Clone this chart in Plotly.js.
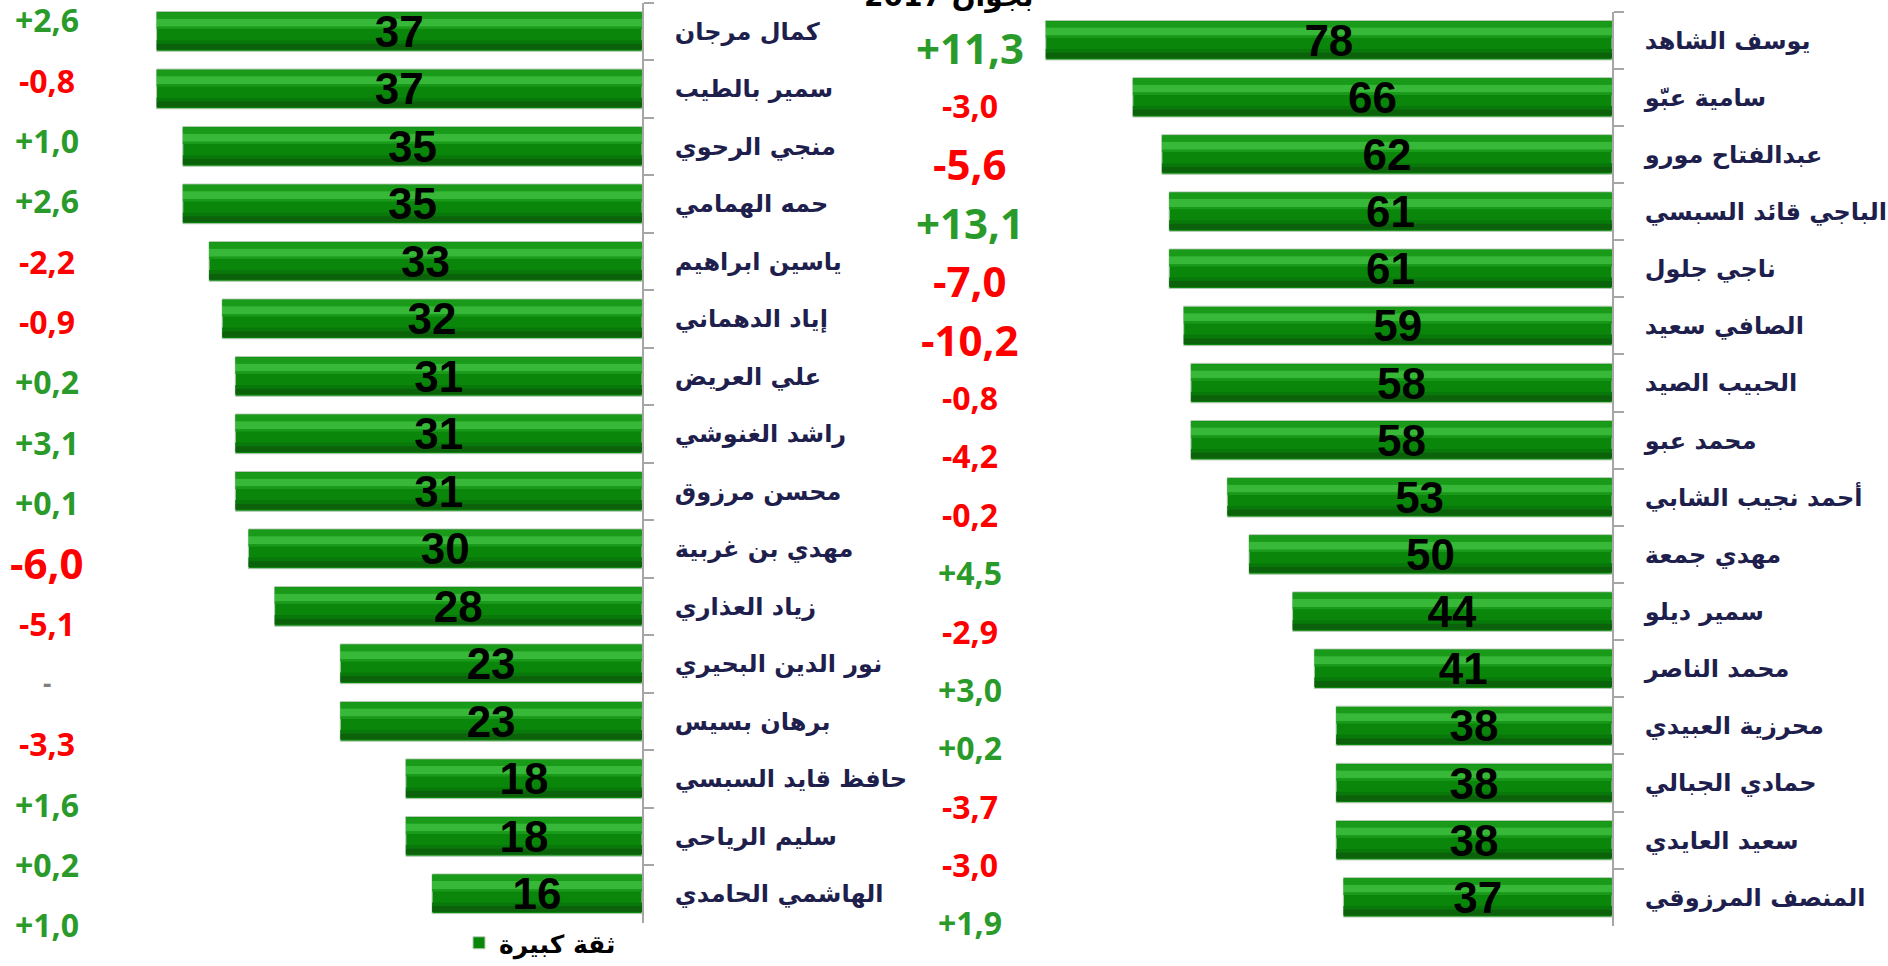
<!DOCTYPE html>
<html><head><meta charset="utf-8">
<script src="https://cdn.plot.ly/plotly-3.0.1.min.js"></script>
<style>html,body{margin:0;padding:0;background:#fff;overflow:hidden}#chart{width:1888px;height:966px}</style>
</head><body><div id="chart"></div>
<script>
// ---------- data ----------
const leftNames = ['كمال مرجان','سمير بالطيب','منجي الرحوي','حمه الهمامي','ياسين ابراهيم','إياد الدهماني','علي العريض','راشد الغنوشي','محسن مرزوق','مهدي بن غربية','زياد العذاري','نور الدين البحيري','برهان بسيس','حافظ قايد السبسي','سليم الرياحي','الهاشمي الحامدي'];
const leftValues = [37,37,35,35,33,32,31,31,31,30,28,23,23,18,18,16];
const leftChanges = [2.6,-0.8,1.0,2.6,-2.2,-0.9,0.2,3.1,0.1,-6.0,-5.1,null,-3.3,1.6,0.2,1.0];

const rightNames = ['يوسف الشاهد','سامية عبّو','عبدالفتاح مورو','الباجي قائد السبسي','ناجي جلول','الصافي سعيد','الحبيب الصيد','محمد عبو','أحمد نجيب الشابي','مهدي جمعة','سمير ديلو','محمد الناصر','محرزية العبيدي','حمادي الجبالي','سعيد العايدي','المنصف المرزوقي'];
const rightValues = [78,66,62,61,61,59,58,58,53,50,44,41,38,38,38,37];
const rightChanges = [11.3,-3.0,-5.6,13.1,-7.0,-10.2,-0.8,-4.2,-0.2,4.5,-2.9,3.0,0.2,-3.7,-3.0,1.9];

const legendLabel = 'ثقة كبيرة';
const titleText = 'بجوان 2017';

// ---------- styling ----------
const W = 1888, H = 966;
const nameFont = {family:"'DejaVu Sans', sans-serif", size:24, color:'#1f1f4d', weight:'bold'};
const barTextFont = {family:"'Liberation Sans', Arial, sans-serif", size:44, color:'#000', weight:'bold'};
const chgFamily = "'Open Sans', 'Liberation Sans', sans-serif";

const BW = 0.69, B0 = -BW/2;
const layers = [
  {off:B0, w:BW, color:'#0a870a', line:{color:'#b8ccb8', width:1}},
  {off:B0+0.02*BW, w:0.16*BW, color:'#199a19'},
  {off:B0+0.18*BW, w:0.2*BW, color:'#38b838'},
  {off:B0+0.38*BW, w:0.06*BW, color:'#1a9a1a'},
  {off:B0+0.72*BW, w:0.09*BW, color:'#08780a'},
  {off:B0+0.81*BW, w:0.15*BW, color:'#0b620b'}
];

function barTraces(names, values, xa, ya, legend){
  const tr = layers.map((L,i)=>({
    type:'bar', orientation:'h', x:values, y:names, xaxis:xa, yaxis:ya,
    offset:L.off, width:L.w,
    marker:{color:L.color, line:L.line||{width:0}},
    hoverinfo:'skip',
    name: legendLabel, showlegend: legend && i===0
  }));
  tr.push({
    type:'bar', orientation:'h', x:values, y:names, xaxis:xa, yaxis:ya,
    offset:B0, width:BW, marker:{color:'rgba(0,0,0,0)'},
    text:values.map(v=>String(v)), textposition:'inside', insidetextanchor:'middle',
    textangle:0, constraintext:'none', textfont:barTextFont,
    hoverinfo:'skip', showlegend:false
  });
  return tr;
}

const traces = [
  ...barTraces(leftNames, leftValues, 'x', 'y', true),
  ...barTraces(rightNames, rightValues, 'x2', 'y2', false)
];

function fmt(v){ if(v===null) return '-'; return (v>0?'+':'')+v.toFixed(1).replace('.',','); }
function chgAnn(changes, yref, xPaper){
  return changes.map((v,i)=>({
    xref:'paper', x:xPaper, yref:yref, y:i, showarrow:false,
    xanchor:'center', yanchor:'middle', text:fmt(v),
    font:{family:chgFamily, weight:'bold',
      size: v===null ? 26 : (Math.abs(v)>5.5 ? 42 : 32),
      color: v===null ? '#808080' : (v>0 ? '#2a9b2a' : '#ff0000')}
  }));
}

const yAxisCommon = {
  type:'category', autorange:'reversed', side:'right',
  showline:true, linecolor:'#a6a6a6', linewidth:2,
  ticks:'outside', tickson:'boundaries', ticklen:10, tickcolor:'#a6a6a6', tickwidth:2,
  tickfont:nameFont, ticklabelstandoff:26, showgrid:false, zeroline:false, fixedrange:true
};
const hiddenX = {visible:false, showgrid:false, zeroline:false, fixedrange:true};

// change-column axes: first label centre p0 px from top, spacing s px
function colRange(p0, s){ const b = -p0/s; return [b + H/s, b]; }

const layout = {
  width:W, height:H, margin:{l:0,r:0,t:0,b:0},
  paper_bgcolor:'#fff', plot_bgcolor:'rgba(0,0,0,0)',
  barmode:'overlay',
  showlegend:true,
  legend:{x:459/W, xanchor:'left', y:(H-949)/H, yanchor:'middle', orientation:'h',
    font:{family:"'DejaVu Sans', sans-serif", size:25, color:'#000', weight:'bold'}, bgcolor:'rgba(0,0,0,0)'},
  xaxis:{...hiddenX, domain:[100/W, 642/W], range:[(642-100)/13.12, 0], anchor:'y'},
  yaxis:{...yAxisCommon, domain:[1-928.3/H, 1-2.7/H], anchor:'x'},
  xaxis2:{...hiddenX, domain:[1000/W, 1612/W], range:[(1612-1000)/7.26, 0], anchor:'y2'},
  yaxis2:{...yAxisCommon, domain:[1-931.7/H, 1-11.7/H], anchor:'x2'},
  xaxis3:{...hiddenX, domain:[0, 0.02], anchor:'y3', range:[0,1]},
  yaxis3:{visible:false, type:'linear', domain:[0,1], anchor:'x3', range:colRange(20, 60.7), fixedrange:true},
  xaxis4:{...hiddenX, domain:[0.49, 0.51], anchor:'y4', range:[0,1]},
  yaxis4:{visible:false, type:'linear', domain:[0,1], anchor:'x4', range:colRange(47.5, 58.75), fixedrange:true},
  annotations:[
    ...chgAnn(leftChanges, 'y3', 47/W),
    ...chgAnn(rightChanges, 'y4', 970/W),
    {xref:'paper', yref:'paper', x:948/W, y:1, yanchor:'middle', xanchor:'center', yshift:4, showarrow:false,
     text:titleText, font:{family:"'DejaVu Sans', sans-serif", size:28, color:'#000', weight:'bold'}}
  ]
};

Plotly.newPlot('chart', traces, layout, {displayModeBar:false, responsive:false});
</script></body></html>
